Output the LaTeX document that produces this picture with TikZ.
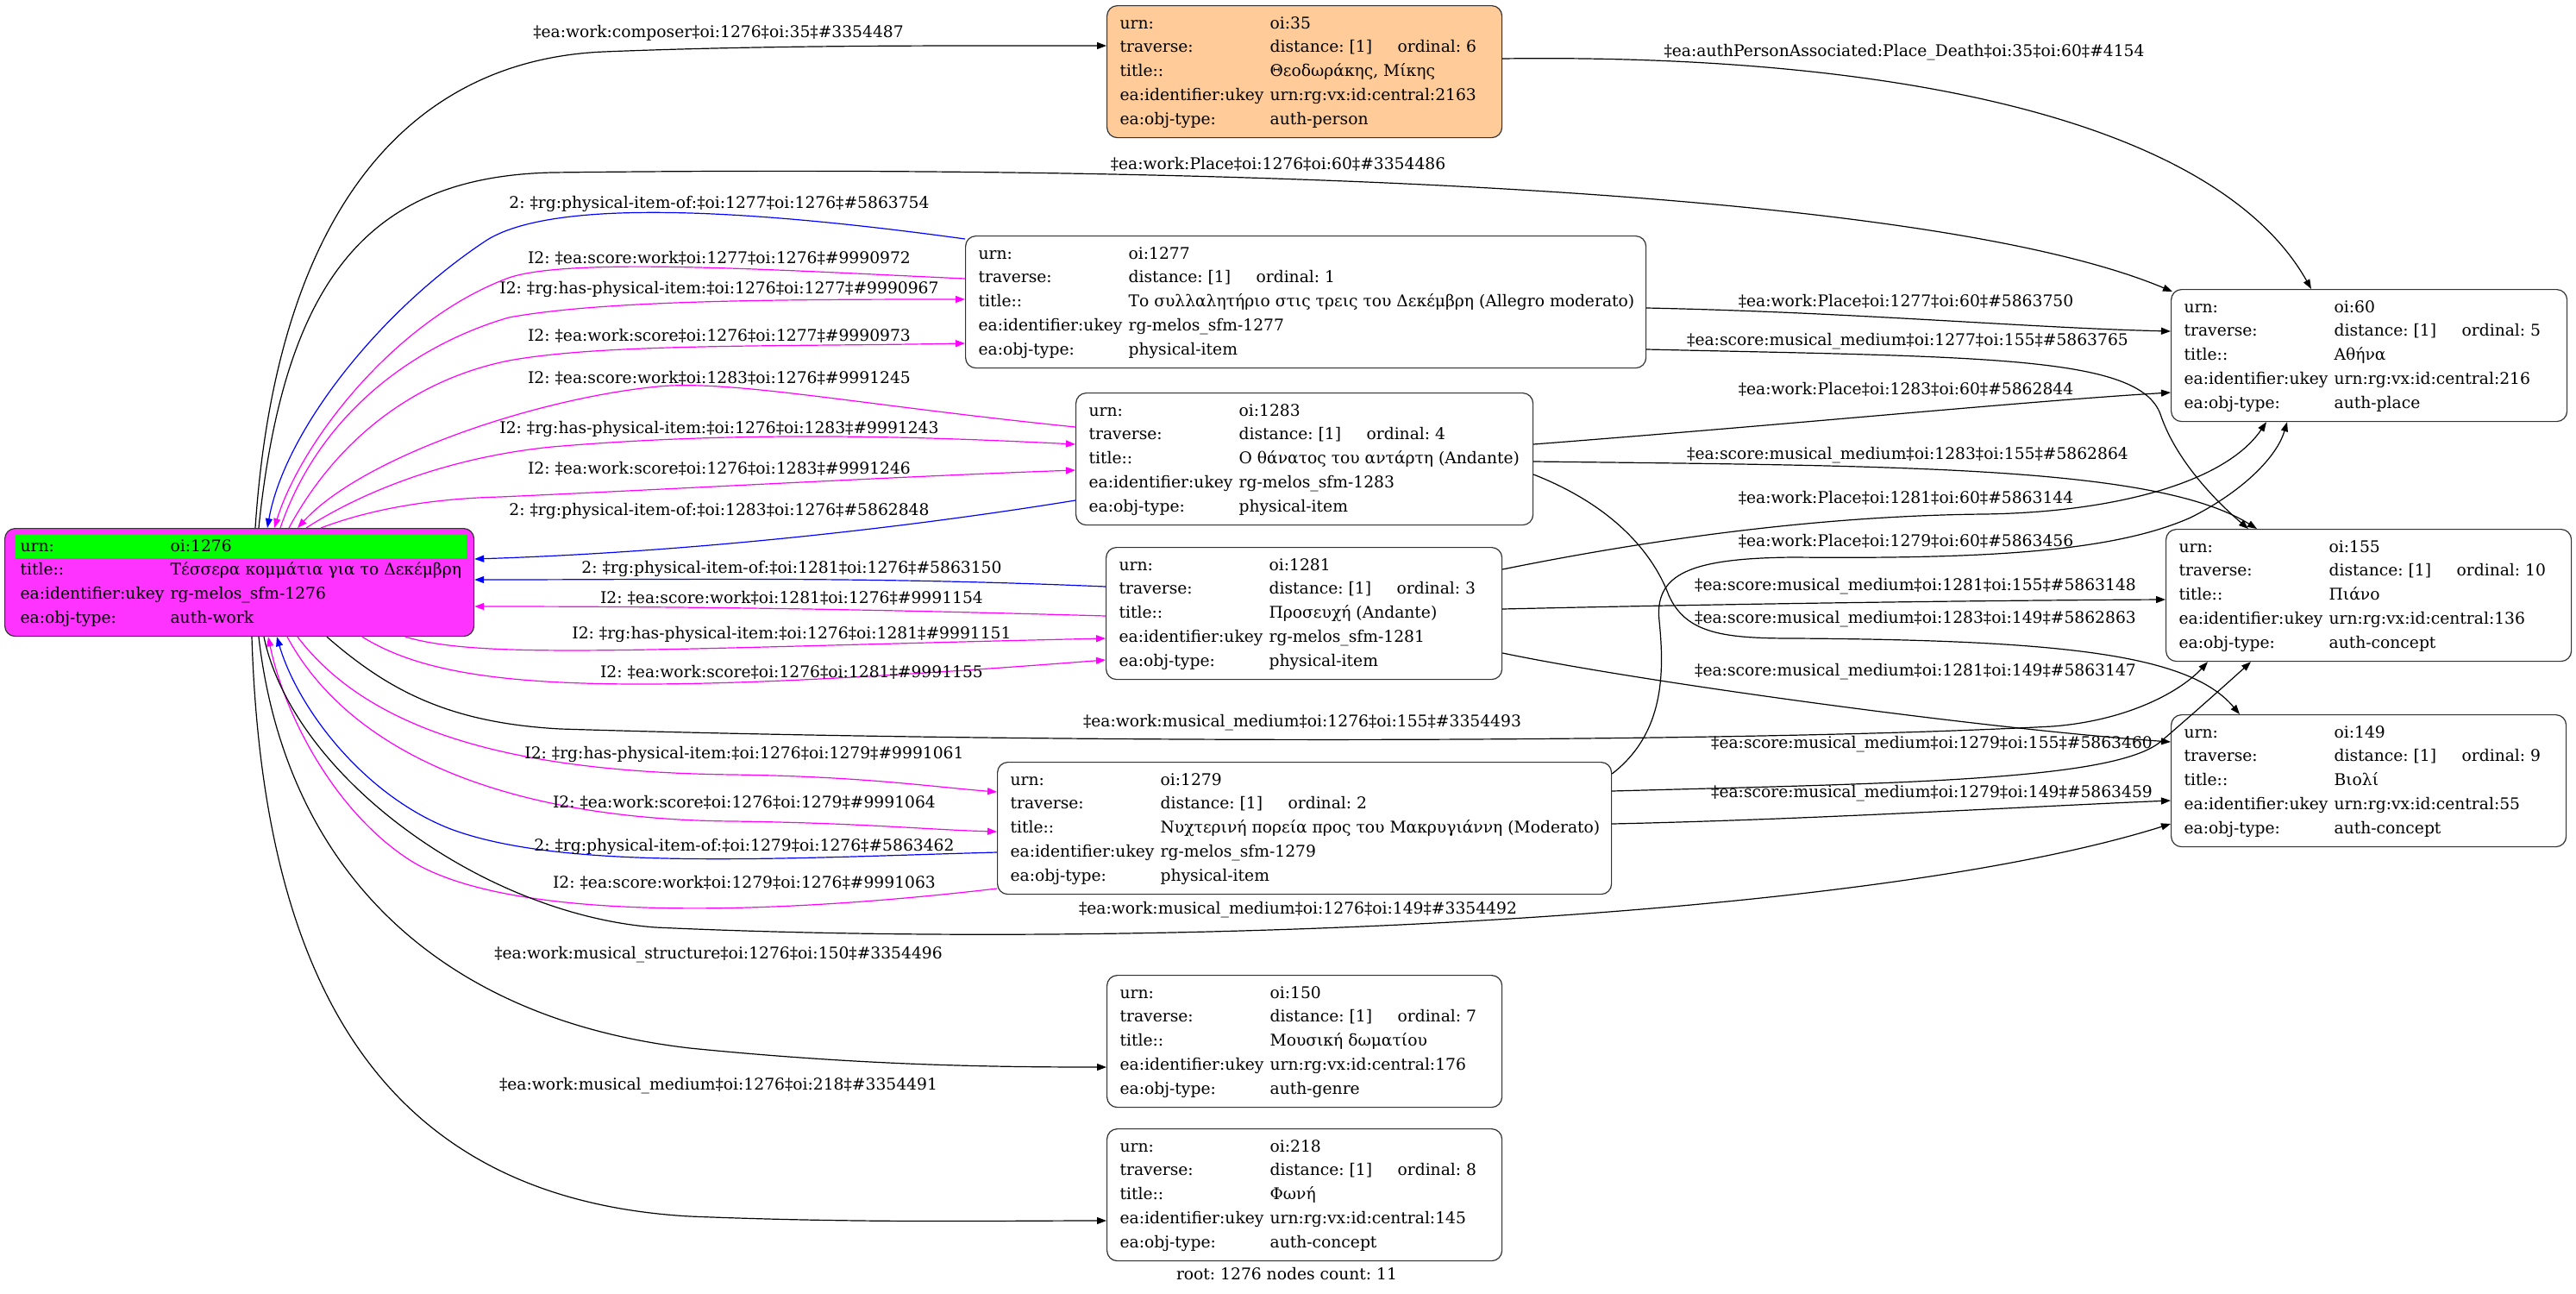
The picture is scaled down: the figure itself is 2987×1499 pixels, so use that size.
\PassOptionsToPackage{table}{xcolor}
\documentclass[tikz,border=0pt]{standalone}
\usepackage{fontspec}
\setmainfont{DejaVu Serif}
\usepackage{array}
\usepackage{tikz}
\usetikzlibrary{positioning,calc}
\usetikzlibrary{arrows.meta}
\definecolor{WorkPink}{RGB}{255,51,255}
\definecolor{KeyGreen}{RGB}{0,255,0}
\definecolor{PersonPeach}{RGB}{255,204,153}
\definecolor{LinkBlue}{RGB}{0,0,255}
\definecolor{LinkPink}{RGB}{255,0,255}
\newcommand{\gvfont}{\fontsize{18.7pt}{27.7pt}\selectfont\frenchspacing}
\newcommand{\gvrecord}[6]{\makebox[#1][l]{\begin{tabular}{@{}p{174pt}@{}l@{}}
urn: & #2\\
traverse: & \makebox[148pt][l]{distance: [1]}ordinal: #3\\
title:: & #4\\
ea:identifier:ukey & #5\\
ea:obj-type: & #6
\end{tabular}}}
\tikzset{
	rec/.style={draw=black!80,fill=white,line width=1.2pt,rounded corners=12pt,
		anchor=north west,inner xsep=15pt,inner ysep=0pt,minimum height=153pt},
	work/.style={rec,fill=WorkPink,inner xsep=18pt,minimum height=125pt},
	person/.style={rec,fill=PersonPeach},
	rel/.style={draw=black,line width=1.2pt,-{Triangle[length=11pt,width=8pt]}},
	relblue/.style={rel,draw=LinkBlue},
	relpink/.style={rel,draw=LinkPink},
	elab/.style={inner sep=1pt},
}
\begin{document}
\begin{tikzpicture}[x=1pt,y=-1pt,font=\gvfont]
			\useasboundingbox (0,0) rectangle (2987,1499);
			\node[work] (n1276) at (5,612) {\makebox[508pt][l]{\begin{tabular}{@{}p{174pt}@{}l@{}}
				\rowcolor{KeyGreen}urn: & oi:1276\\
				title:: & Τέσσερα κομμάτια για το Δεκέμβρη\\
				ea:identifier:ukey & rg-melos\_sfm-1276\\
				ea:obj-type: & auth-work
				\end{tabular}}};
			\node[person] (n35) at (1283,6) {\gvrecord{428pt}{oi:35}{6}{Θεοδωράκης, Μίκης}{urn:rg:vx:id:central:2163}{auth-person}};
			\node[rec] (n1277) at (1119,273) {\gvrecord{759pt}{oi:1277}{1}{Το συλλαλητήριο στις τρεις του Δεκέμβρη (Allegro moderato)}{rg-melos\_sfm-1277}{physical-item}};
			\node[rec] (n1283) at (1247,455) {\gvrecord{500pt}{oi:1283}{4}{Ο θάνατος του αντάρτη (Andante)}{rg-melos\_sfm-1283}{physical-item}};
			\node[rec] (n1281) at (1282,634) {\gvrecord{429pt}{oi:1281}{3}{Προσευχή (Andante)}{rg-melos\_sfm-1281}{physical-item}};
			\node[rec] (n1279) at (1156,883) {\gvrecord{682pt}{oi:1279}{2}{Νυχτερινή πορεία προς του Μακρυγιάννη (Moderato)}{rg-melos\_sfm-1279}{physical-item}};
			\node[rec] (n150) at (1283,1130) {\gvrecord{428pt}{oi:150}{7}{Μουσική δωματίου}{urn:rg:vx:id:central:176}{auth-genre}};
			\node[rec] (n218) at (1283,1308) {\gvrecord{428pt}{oi:218}{8}{Φωνή}{urn:rg:vx:id:central:145}{auth-concept}};
			\node[rec] (n60) at (2517,335) {\gvrecord{429pt}{oi:60}{5}{Αθήνα}{urn:rg:vx:id:central:216}{auth-place}};
			\node[rec] (n155) at (2511,613) {\gvrecord{440pt}{oi:155}{10}{Πιάνο}{urn:rg:vx:id:central:136}{auth-concept}};
			\node[rec] (n149) at (2517,828) {\gvrecord{428pt}{oi:149}{9}{Βιολί}{urn:rg:vx:id:central:55}{auth-concept}};
			\node (rootinfo) at (1492,1477) {root: 1276 nodes count: 11};
			\draw[rel] ([xshift=291pt]n1276.north west) .. controls (320,250) and (470,70) .. (700,60) .. controls (900,52) and (1100,53) .. ([yshift=-47pt]n35.north west)
				node[elab] (lcomposer) at (833,38) {‡ea:work:composer‡oi:1276‡oi:35‡\#3354487};
			\draw[rel] ([xshift=295pt]n1276.north west) .. controls (330,320) and (430,205) .. (640,200) .. controls (1500,190) and (2250,225) .. ([xshift=2pt,yshift=-3pt]n60.north west)
				node[elab] (lplace) at (1482,190) {‡ea:work:Place‡oi:1276‡oi:60‡\#3354486};
			\draw[relblue] ([yshift=-4pt]n1277.north west) .. controls (850,240) and (640,232) .. (565,278) .. controls (440,360) and (330,500) .. ([xshift=305pt]n1276.north west)
				node[elab] (lof1277) at (834,236) {2: ‡rg:physical-item-of:‡oi:1277‡oi:1276‡\#5863754};
			\draw[relpink] ([yshift=-50pt]n1277.north west) .. controls (900,313) and (660,298) .. (590,322) .. controls (460,370) and (350,510) .. ([xshift=313pt]n1276.north west)
				node[elab] (lsw1277) at (834,299) {I2: ‡ea:score:work‡oi:1277‡oi:1276‡\#9990972};
			\draw[relpink] ([xshift=320pt]n1276.north west) .. controls (370,480) and (480,400) .. (590,368) .. controls (700,348) and (900,347) .. ([yshift=-74pt]n1277.north west)
				node[elab] (lhas1277) at (834,335) {I2: ‡rg:has-physical-item:‡oi:1276‡oi:1277‡\#9990967};
			\draw[relpink] ([xshift=330pt]n1276.north west) .. controls (390,510) and (480,440) .. (590,418) .. controls (700,398) and (900,402) .. ([yshift=-125pt]n1277.north west)
				node[elab] (lws1277) at (834,389) {I2: ‡ea:work:score‡oi:1276‡oi:1277‡\#9990973};
			\draw[relpink] ([yshift=-40pt]n1283.north west) .. controls (1000,470) and (850,440) .. (763,448) .. controls (620,462) and (420,530) .. ([xshift=340pt]n1276.north west)
				node[elab] (lsw1283) at (834,438) {I2: ‡ea:score:work‡oi:1283‡oi:1276‡\#9991245};
			\draw[relpink] ([xshift=350pt]n1276.north west) .. controls (420,570) and (520,530) .. (640,518) .. controls (850,500) and (1050,505) .. ([yshift=-60pt]n1283.north west)
				node[elab] (lhas1283) at (834,497) {I2: ‡rg:has-physical-item:‡oi:1276‡oi:1283‡\#9991243};
			\draw[relpink] ([xshift=367pt]n1276.north west) .. controls (430,590) and (500,578) .. (580,576) .. controls (800,566) and (1050,552) .. ([yshift=-90pt]n1283.north west)
				node[elab] (lws1283) at (834,543) {I2: ‡ea:work:score‡oi:1276‡oi:1283‡\#9991246};
			\draw[relblue] ([yshift=-125pt]n1283.north west) .. controls (1050,612) and (800,640) .. ([yshift=-36pt]n1276.north east)
				node[elab] (lof1283) at (834,592) {2: ‡rg:physical-item-of:‡oi:1283‡oi:1276‡\#5862848};
			\draw[relblue] ([yshift=-46pt]n1281.north west) .. controls (1000,668) and (800,672) .. ([yshift=-60pt]n1276.north east)
				node[elab] (lof1281) at (918,659) {2: ‡rg:physical-item-of:‡oi:1281‡oi:1276‡\#5863150};
			\draw[relpink] ([yshift=-80pt]n1281.north west) .. controls (1000,706) and (800,703) .. ([yshift=-91pt]n1276.north east)
				node[elab] (lsw1281) at (918,693) {I2: ‡ea:score:work‡oi:1281‡oi:1276‡\#9991154};
			\draw[relpink] ([xshift=465pt]n1276.south west) .. controls (560,765) and (750,752) .. ([yshift=-106pt]n1281.north west)
				node[elab] (lhas1281) at (918,735) {I2: ‡rg:has-physical-item:‡oi:1276‡oi:1281‡\#9991151};
			\draw[relpink] ([xshift=415pt]n1276.south west) .. controls (520,800) and (700,810) .. ([yshift=-131pt]n1281.north west)
				node[elab] (lws1281) at (918,779) {I2: ‡ea:work:score‡oi:1276‡oi:1281‡\#9991155};
			\draw[rel] ([xshift=374pt]n1276.south west) .. controls (450,800) and (520,838) .. (650,845) .. controls (1200,862) and (2000,862) .. (2380,842) .. controls (2470,835) and (2530,800) .. ([xshift=49pt]n155.south west)
				node[elab] (lmm155) at (1510,838) {‡ea:work:musical\_medium‡oi:1276‡oi:155‡\#3354493};
			\draw[relpink] ([xshift=340pt]n1276.south west) .. controls (430,850) and (600,895) .. (850,898) .. controls (1000,900) and (1080,912) .. ([yshift=-35pt]n1279.north west)
				node[elab] (lhas1279) at (863,874) {I2: ‡rg:has-physical-item:‡oi:1276‡oi:1279‡\#9991061};
			\draw[relpink] ([xshift=328pt]n1276.south west) .. controls (410,880) and (600,950) .. (850,952) .. controls (1000,954) and (1080,962) .. ([yshift=-81pt]n1279.north west)
				node[elab] (lws1279) at (863,930) {I2: ‡ea:work:score‡oi:1276‡oi:1279‡\#9991064};
			\draw[relblue] ([yshift=-105pt]n1279.north west) .. controls (900,995) and (650,1010) .. (520,960) .. controls (420,920) and (345,820) .. ([xshift=316pt]n1276.south west)
				node[elab] (lof1279) at (863,981) {2: ‡rg:physical-item-of:‡oi:1279‡oi:1276‡\#5863462};
			\draw[relpink] ([yshift=-147pt]n1279.north west) .. controls (900,1060) and (600,1070) .. (480,1000) .. controls (390,945) and (330,830) .. ([xshift=306pt]n1276.south west)
				node[elab] (lsw1279) at (863,1023) {I2: ‡ea:score:work‡oi:1279‡oi:1276‡\#9991063};
			\draw[rel] ([xshift=301pt]n1276.south west) .. controls (340,900) and (560,1060) .. (760,1075) .. controls (1300,1100) and (2150,1070) .. ([yshift=-127pt]n149.north west)
				node[elab] (lmm149) at (1505,1055) {‡ea:work:musical\_medium‡oi:1276‡oi:149‡\#3354492};
			\draw[rel] ([xshift=295pt]n1276.south west) .. controls (330,1000) and (500,1180) .. (800,1215) .. controls (1000,1235) and (1150,1237) .. ([yshift=-107pt]n150.north west)
				node[elab] (lstruct) at (833,1107) {‡ea:work:musical\_structure‡oi:1276‡oi:150‡\#3354496};
			\draw[rel] ([xshift=287pt]n1276.south west) .. controls (305,1150) and (450,1390) .. (800,1410) .. controls (1000,1418) and (1150,1415) .. ([yshift=-107pt]n218.north west)
				node[elab] (lmm218) at (833,1259) {‡ea:work:musical\_medium‡oi:1276‡oi:218‡\#3354491};
			\draw[rel] ([yshift=-62pt]n35.north east) .. controls (2200,62) and (2570,140) .. ([xshift=163pt]n60.north west)
				node[elab] (ldeath) at (2208,61) {‡ea:authPersonAssociated:Place\_Death‡oi:35‡oi:60‡\#4154};
			\draw[rel] ([yshift=-84pt]n1277.north east) .. controls (2150,362) and (2350,380) .. ([yshift=-49pt]n60.north west)
				node[elab] (lplace1277) at (2210,349) {‡ea:work:Place‡oi:1277‡oi:60‡\#5863750};
			\draw[rel] ([yshift=-132pt]n1277.north east) .. controls (2300,414) and (2480,412) .. (2505,480) .. controls (2525,540) and (2580,590) .. ([xshift=96pt]n155.north west)
				node[elab] (lmm1277) at (2212,396) {‡ea:score:musical\_medium‡oi:1277‡oi:155‡\#5863765};
			\draw[rel] ([yshift=-60pt]n1283.north east) .. controls (2100,490) and (2350,465) .. ([yshift=-120pt]n60.north west)
				node[elab] (lplace1283) at (2210,451) {‡ea:work:Place‡oi:1283‡oi:60‡\#5862844};
			\draw[rel] ([yshift=-80pt]n1283.north east) .. controls (2200,540) and (2500,540) .. ([xshift=106pt]n155.north west)
				node[elab] (lmm1283a) at (2212,528) {‡ea:score:musical\_medium‡oi:1283‡oi:155‡\#5862864};
			\draw[rel] ([yshift=-26pt]n1281.north east) .. controls (1900,628) and (2100,598) .. (2300,596) .. controls (2450,594) and (2580,560) .. ([xshift=111pt]n60.south west)
				node[elab] (lplace1281) at (2210,577) {‡ea:work:Place‡oi:1281‡oi:60‡\#5863144};
			\draw[rel] ([yshift=-14pt]n1279.north east) .. controls (1930,850) and (1930,780) .. (1924,720) .. controls (1918,665) and (1960,647) .. (2080,646) .. controls (2300,648) and (2450,640) .. (2540,600) .. controls (2600,570) and (2640,530) .. ([xshift=135pt]n60.south west)
				node[elab] (lplace1279) at (2210,627) {‡ea:work:Place‡oi:1279‡oi:60‡\#5863456};
			\draw[rel] ([yshift=-72pt]n1281.north east) .. controls (2000,700) and (2300,696) .. ([yshift=-82pt]n155.north west)
				node[elab] (lmm1281a) at (2221,680) {‡ea:score:musical\_medium‡oi:1281‡oi:155‡\#5863148};
			\draw[rel] ([yshift=-95pt]n1283.north east) .. controls (1880,590) and (1920,650) .. (1935,690) .. controls (1955,735) and (2000,740) .. (2080,740) .. controls (2400,742) and (2540,760) .. ([xshift=80pt]n149.north west)
				node[elab] (lmm1283b) at (2221,718) {‡ea:score:musical\_medium‡oi:1283‡oi:149‡\#5862863};
			\draw[rel] ([yshift=-123pt]n1281.north east) .. controls (1900,790) and (2300,845) .. ([yshift=-32pt]n149.north west)
				node[elab] (lmm1281b) at (2221,779) {‡ea:score:musical\_medium‡oi:1281‡oi:149‡\#5863147};
			\draw[rel] ([yshift=-34pt]n1279.north east) .. controls (2200,908) and (2450,905) .. (2505,860) .. controls (2540,830) and (2585,790) .. ([xshift=99pt]n155.south west)
				node[elab] (lmm1279a) at (2240,863) {‡ea:score:musical\_medium‡oi:1279‡oi:155‡\#5863460};
			\draw[rel] ([yshift=-72pt]n1279.north east) .. controls (2100,950) and (2350,935) .. ([yshift=-100pt]n149.north west)
				node[elab] (lmm1279b) at (2240,920) {‡ea:score:musical\_medium‡oi:1279‡oi:149‡\#5863459};
		\end{tikzpicture}
\end{document}
